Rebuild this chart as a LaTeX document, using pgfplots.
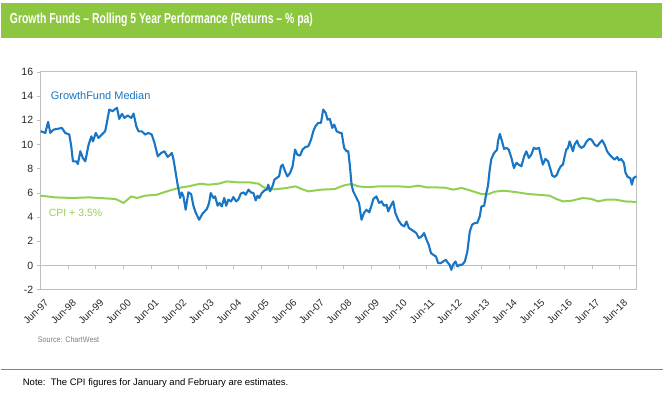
\documentclass[border=0pt]{standalone}
\usepackage{fontspec}
\setmainfont{Liberation Sans}
\usepackage{graphicx}
\usepackage{pgfplots}
\pgfplotsset{compat=1.18}
\definecolor{fundblue}{RGB}{24,118,196}
\definecolor{cpigreen}{RGB}{146,208,80}
\definecolor{bannergreen}{RGB}{141,198,63}
\definecolor{framegray}{RGB}{190,190,190}
\definecolor{sepblue}{RGB}{60,150,210}
\definecolor{labgray}{RGB}{40,40,40}

\pgfplotstableread{
x y
0.00 11.10
0.17 10.96
0.27 11.87
0.35 10.96
0.47 11.23
0.77 11.37
0.89 10.96
1.04 10.82
1.11 9.85
1.17 8.61
1.29 8.61
1.35 8.39
1.44 9.44
1.53 8.89
1.62 8.61
1.74 9.99
1.84 10.68
1.90 10.26
2.00 10.96
2.10 10.54
2.22 10.82
2.34 11.09
2.40 11.79
2.49 12.89
2.61 12.75
2.68 12.89
2.77 13.03
2.85 12.12
2.95 12.53
3.04 12.20
3.16 12.39
3.29 12.20
3.37 12.56
3.47 11.51
3.55 11.09
3.67 11.09
3.79 10.82
3.91 10.96
4.03 10.82
4.13 10.13
4.25 9.02
4.37 9.30
4.49 9.44
4.61 8.97
4.76 9.30
4.82 8.75
4.90 7.65
4.97 6.68
5.06 5.58
5.12 6.04
5.18 5.71
5.26 4.61
5.36 6.05
5.46 5.90
5.54 4.95
5.63 4.34
5.75 3.78
5.87 4.28
6.03 4.67
6.11 5.17
6.17 5.99
6.27 5.58
6.33 5.71
6.42 4.94
6.49 5.17
6.57 4.88
6.66 5.58
6.73 4.94
6.81 5.44
6.91 5.30
6.99 5.66
7.09 5.30
7.17 5.44
7.26 5.94
7.36 6.04
7.44 5.85
7.54 6.27
7.63 6.04
7.72 5.99
7.80 5.38
7.87 5.77
7.93 5.58
8.02 5.99
8.12 6.21
8.20 6.27
8.26 6.68
8.32 6.13
8.41 6.54
8.48 7.09
8.56 7.23
8.65 7.37
8.72 8.20
8.78 8.34
8.87 7.78
8.95 7.37
9.05 7.65
9.14 8.20
9.23 9.58
9.31 9.16
9.41 9.08
9.50 9.58
9.61 9.80
9.71 9.85
9.81 10.41
9.89 11.09
9.97 11.51
10.07 11.79
10.17 11.79
10.25 12.89
10.34 12.62
10.41 12.06
10.49 12.12
10.58 11.37
10.65 11.65
10.74 11.09
10.86 10.96
10.92 10.96
11.01 9.72
11.10 9.44
11.16 9.44
11.22 8.20
11.28 6.68
11.34 6.13
11.46 5.58
11.55 5.17
11.64 3.78
11.73 4.34
11.82 4.61
11.92 4.39
12.00 4.94
12.07 5.50
12.18 5.71
12.28 5.17
12.37 5.30
12.45 4.94
12.55 5.02
12.61 4.47
12.69 4.88
12.79 5.30
12.87 4.34
12.97 3.78
13.09 3.37
13.19 3.23
13.27 3.64
13.36 3.10
13.45 2.96
13.55 2.81
13.63 2.68
13.72 2.27
13.82 2.40
13.91 2.68
14.00 2.13
14.08 1.71
14.16 1.03
14.24 0.89
14.34 0.75
14.42 0.20
14.52 0.20
14.60 0.33
14.70 0.47
14.78 0.20
14.84 0.06
14.90 -0.36
14.96 0.06
15.05 0.33
15.12 -0.08
15.21 0.06
15.29 0.06
15.39 0.33
15.48 1.16
15.57 2.81
15.65 3.37
15.75 3.51
15.84 3.51
15.93 4.06
15.99 4.88
16.09 4.94
16.17 5.99
16.23 6.60
16.29 7.90
16.35 8.80
16.45 9.30
16.56 9.58
16.59 10.26
16.66 10.88
16.74 10.26
16.81 9.64
16.90 9.72
16.98 9.58
17.08 8.89
17.17 8.06
17.26 8.48
17.34 8.34
17.44 8.20
17.54 9.02
17.62 9.44
17.71 8.89
17.80 9.16
17.89 9.72
17.98 9.64
18.08 9.72
18.16 8.89
18.22 8.34
18.31 8.81
18.41 8.61
18.50 7.92
18.56 7.43
18.65 7.32
18.73 7.51
18.80 7.92
18.87 8.20
18.95 8.34
19.01 9.02
19.07 9.58
19.13 9.72
19.19 10.26
19.25 9.85
19.31 9.44
19.37 9.99
19.46 10.32
19.53 9.91
19.61 9.72
19.71 9.85
19.81 10.26
19.92 10.49
20.00 10.35
20.10 9.99
20.19 9.85
20.28 10.13
20.37 10.35
20.46 9.99
20.55 9.44
20.64 9.16
20.72 8.97
20.82 8.75
20.92 8.97
20.98 8.69
21.06 8.81
21.16 8.48
21.22 7.65
21.30 7.32
21.39 7.23
21.45 6.68
21.51 7.23
21.61 7.37
}\fundtable

\pgfplotstableread{
x y
0.00 5.77
0.53 5.63
1.15 5.58
1.74 5.63
2.34 5.55
2.71 5.50
3.01 5.17
3.29 5.71
3.49 5.58
3.79 5.77
4.21 5.85
4.58 6.13
5.00 6.41
5.36 6.54
5.79 6.76
6.09 6.68
6.45 6.76
6.75 6.95
7.17 6.87
7.59 6.87
7.90 6.76
8.08 6.49
8.26 6.27
8.62 6.32
8.93 6.41
9.25 6.54
9.47 6.32
9.71 6.13
10.19 6.27
10.68 6.32
10.86 6.50
11.04 6.64
11.28 6.74
11.52 6.54
11.88 6.47
12.25 6.54
12.97 6.54
13.39 6.49
13.70 6.60
14.00 6.46
14.66 6.44
14.96 6.27
15.27 6.41
15.57 6.21
15.99 5.91
16.23 5.88
16.47 6.10
16.78 6.18
17.02 6.13
17.32 6.04
17.68 5.91
18.04 5.85
18.47 5.77
18.71 5.50
18.95 5.30
19.25 5.35
19.67 5.58
19.98 5.50
20.22 5.30
20.52 5.44
20.88 5.44
21.18 5.30
21.61 5.25
}\cpitable

\begin{document}
\begin{tikzpicture}
\fill[white] (0pt,0pt) rectangle (668pt,393pt);
\fill[bannergreen] (0pt,355pt) rectangle (662pt,390pt);
\node[anchor=west, text=white, inner sep=0pt] at (9pt,373pt)
  {\scalebox{0.72}[1]{\fontsize{14.5}{16}\selectfont\bfseries Growth Funds -- Rolling 5 Year Performance (Returns -- \% pa)}};

\begin{axis}[
  at={(40pt,103pt)}, anchor=south west,
  scale only axis, width=596pt, height=218pt,
  xmin=0, xmax=21.6, ymin=-2, ymax=16,
  ytick={-2,0,...,16},
  xtick={0,...,21},
  xticklabels={Jun-97,Jun-98,Jun-99,Jun-00,Jun-01,Jun-02,Jun-03,Jun-04,Jun-05,Jun-06,Jun-07,Jun-08,Jun-09,Jun-10,Jun-11,Jun-12,Jun-13,Jun-14,Jun-15,Jun-16,Jun-17,Jun-18},
  /pgf/number format/assume math mode=true,
  tick align=outside, major tick length=4pt,
  ytick pos=left,
  xtick style={draw=none},
  ytick style={draw=framegray, line width=0.8pt},
  axis line style={draw=framegray, line width=1pt},
  y tick label style={font=\fontsize{10.5}{12}\selectfont, text=labgray},
  x tick label style={rotate=45, anchor=north east, font=\fontsize{10}{11}\selectfont, text=labgray, inner sep=0.5pt, xshift=0pt, yshift=-5pt},
  clip=false,
]
\draw[framegray, line width=0.9pt] (axis cs:0,0) -- (axis cs:21.6,0);
\pgfplotsinvokeforeach{1,...,21}{\draw[framegray, line width=0.8pt] (axis cs:#1,0) -- ++(0pt,-4pt);}
\addplot[cpigreen, line width=2pt, line join=round] table[x=x,y=y] {\cpitable};
\addplot[fundblue, line width=2.1pt, line join=round] table[x=x,y=y] {\fundtable};
\end{axis}

\node[anchor=west, text=fundblue, inner sep=0pt, font=\fontsize{11}{13}\selectfont] at (50pt,297pt) {GrowthFund Median};
\node[anchor=west, text=cpigreen, inner sep=0pt, font=\fontsize{10.5}{12}\selectfont] at (48pt,180pt) {CPI + 3.5\%};
\node[anchor=west, text=gray, inner sep=0pt, font=\fontsize{8}{9}\selectfont] at (37pt,53pt) {\scalebox{0.9}[1]{Source: ChartWest}};
\draw[sepblue, line width=1.4pt] (0pt,23pt) -- (663pt,23pt);
\node[anchor=west, text=black, inner sep=0pt, font=\fontsize{9.5}{11}\selectfont] at (22pt,10pt) {Note:\ \ The CPI figures for January and February are estimates.};
\end{tikzpicture}
\end{document}
